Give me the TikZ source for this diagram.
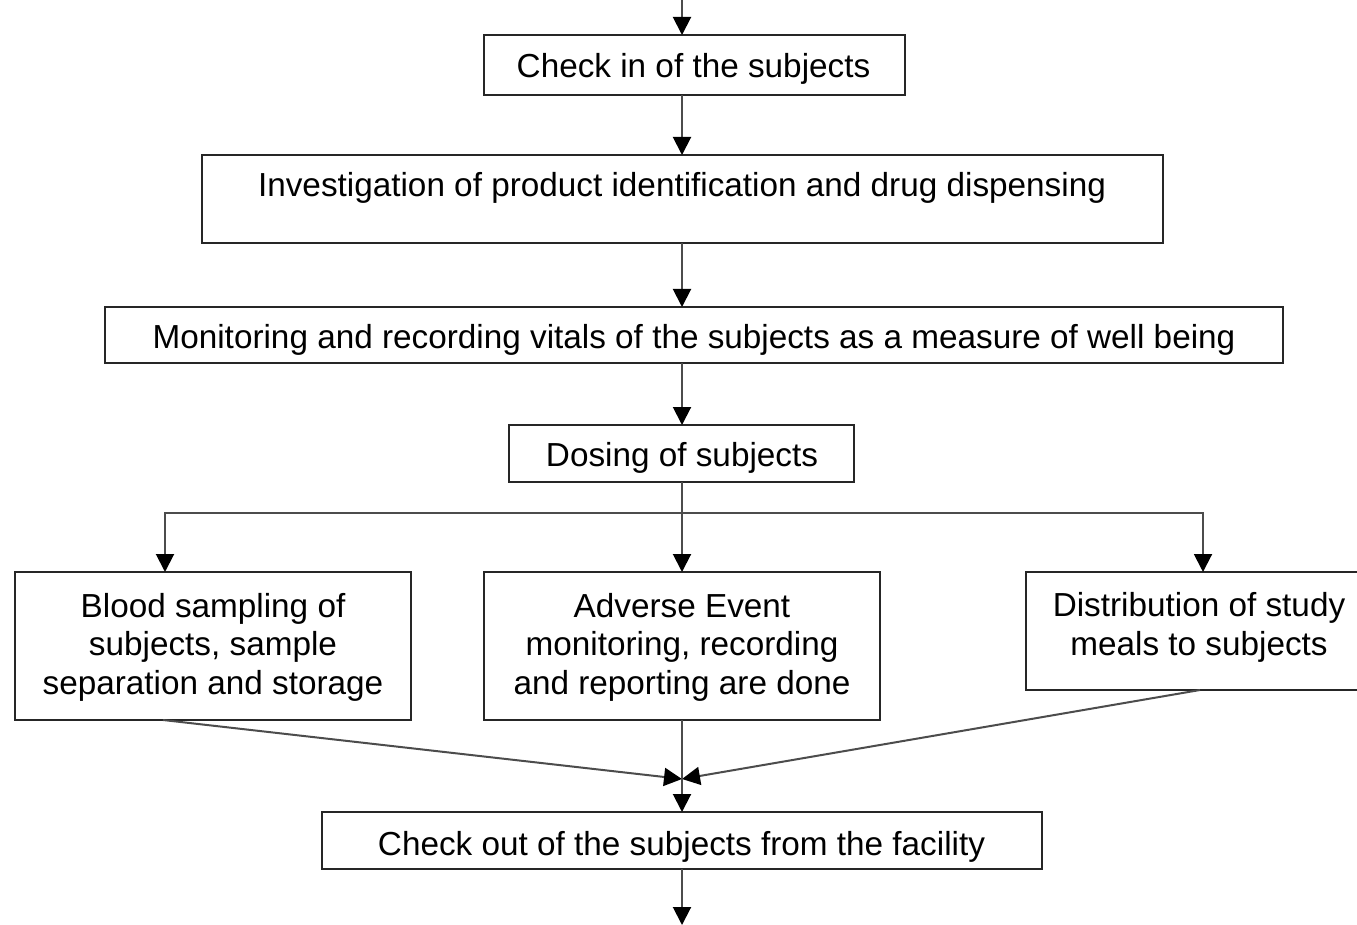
\documentclass[tikz,border=0pt]{standalone}
\usepackage{fontspec}
\setmainfont{Liberation Sans}
\usetikzlibrary{arrows.meta}
\begin{document}
\begin{tikzpicture}[x=1pt,y=-1pt,
  box/.style={draw=black!85, line width=1.4pt, inner sep=0pt},
  txt/.style={anchor=base, inner sep=0pt, font=\fontsize{33.3}{38.5}\selectfont, align=center},
  conn/.style={draw=black!70, line width=2pt},
  arr/.style={conn, -{Triangle[width=18pt,length=18pt,black]}}]
\useasboundingbox (0,0) rectangle (1357,925);
% boxes
\node[box, minimum width=421pt, minimum height=60pt] (ci) at (694.5,65) {};
\node[box, minimum width=961pt, minimum height=88pt] (inv) at (682.5,199) {};
\node[box, minimum width=1178pt, minimum height=56pt] (mon) at (694,335) {};
\node[box, minimum width=345pt, minimum height=57pt] (dose) at (681.5,453.5) {};
\node[box, minimum width=396pt, minimum height=148pt] (blood) at (213,646) {};
\node[box, minimum width=396pt, minimum height=148pt] (ae) at (682,646) {};
\node[box, minimum width=334pt, minimum height=118pt] (dist) at (1193,631) {};
\node[box, minimum width=720pt, minimum height=57pt] (co) at (682,840.5) {};
% texts (base anchor = baseline of the last line)
\node[txt] (ciT) at (693.5,78) {Check in of the subjects};
\node[txt] (invT) at (682,197) {Investigation of product identification and drug dispensing};
\node[txt] (monT) at (694,348) {Monitoring and recording vitals of the subjects as a measure of well being};
\node[txt] (doseT) at (682,466) {Dosing of subjects};
\node[txt] (bloodT) at (213,694) {Blood sampling of\\subjects, sample\\separation and storage};
\node[txt] (aeT) at (682,694) {Adverse Event\\monitoring, recording\\and reporting are done};
\node[txt] (distT) at (1199,655) {Distribution of study\\meals to subjects};
\node[txt] (coT) at (681.5,855) {Check out of the subjects from the facility};
% coordinates
\coordinate (top) at (682,0);
\coordinate (ciin) at (682,35);
\coordinate (ciout) at (682,95);
\coordinate (invin) at (682,155);
\coordinate (invout) at (682,243);
\coordinate (monin) at (682,307);
\coordinate (monout) at (682,363);
\coordinate (dosein) at (682,425);
\coordinate (doseout) at (682,482);
\coordinate (split) at (682,513);
\coordinate (bloodin) at (165,572);
\coordinate (aein) at (682,572);
\coordinate (distin) at (1203,572);
\coordinate (bloodout) at (163,720);
\coordinate (aeout) at (682,720);
\coordinate (distout) at (1200,690);
\coordinate (merge) at (682,779);
\coordinate (coin) at (682,812);
\coordinate (coout) at (682,869);
\coordinate (bottom) at (682,925);
% connectors
\draw[arr] (top) -- (ciin);
\draw[arr] (ciout) -- (invin);
\draw[arr] (invout) -- (monin);
\draw[arr] (monout) -- (dosein);
\draw[conn] (doseout) -- (split);
\draw[arr] (split) -- (aein);
\draw[arr] (split) -| (bloodin);
\draw[arr] (split) -| (distin);
\draw[arr] (bloodout) -- (merge);
\draw[arr] (distout) -- (merge);
\draw[arr] (aeout) -- (coin);
\draw[arr] (coout) -- (bottom);
\end{tikzpicture}
\end{document}
